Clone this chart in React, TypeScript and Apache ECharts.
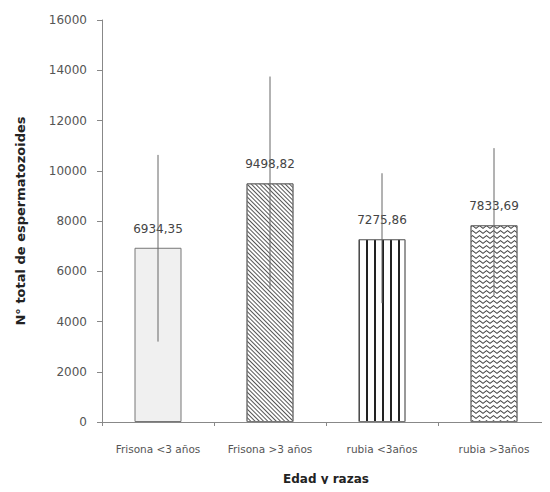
import React, { useEffect, useRef } from "react";
import * as echarts from "echarts";

const categories = ["Frisona <3 años", "Frisona >3 años", "rubia <3años", "rubia >3años"];
const means = [6934.35, 9498.82, 7275.86, 7833.69];
const labels = ["6934,35", "9498,82", "7275,86", "7833,69"];
const errHigh = [10630, 13750, 9900, 10900];
const errLow = [3200, 5300, 4730, 5050];
const yTicks = [0, 16000, 2000];

const FONT = "DejaVu Sans";

export default function App() {
  const ref = useRef<HTMLDivElement>(null);
  useEffect(() => {
    if (!ref.current) return;
    const chart = echarts.init(ref.current, null, { renderer: "svg" });
    const decals: any[] = [
      null,
      { symbol: "rect", color: "#555", backgroundColor: "#fff", dashArrayX: [1, 0], dashArrayY: [1, 1.6], rotation: Math.PI / 4, symbolSize: 1 },
      { symbol: "rect", color: "#222", backgroundColor: "#fff", dashArrayX: [1, 0], dashArrayY: [1.3, 5.5], rotation: Math.PI / 2, symbolSize: 1 },
      { symbol: "path://M0,3 L4,0 L8,3 L8,4.3 L4,1.3 L0,4.3 Z", color: "#444", backgroundColor: "#fff", dashArrayX: [7, 0], dashArrayY: [4, 0.8], symbolSize: 1 },
    ];
    const fills = ["#f0f0f0", "#fff", "#fff", "#fff"];
    chart.setOption({
      animation: false,
      aria: { enabled: false },
      grid: { left: 102, right: 0, top: 20, bottom: 70, containLabel: false },
      xAxis: {
        type: "category",
        data: categories,
        name: "Edad y razas",
        nameLocation: "middle",
        nameGap: 51,
        nameTextStyle: { fontFamily: FONT, fontSize: 12, fontWeight: "bold", color: "#222" },
        axisLine: { lineStyle: { color: "#888" } },
        axisTick: { show: true, length: 4, lineStyle: { color: "#888" } },
        axisLabel: { fontFamily: FONT, fontSize: 10.5, color: "#555", margin: 21, interval: 0 },
      },
      yAxis: {
        type: "value",
        min: yTicks[0],
        max: yTicks[1],
        interval: yTicks[2],
        name: "N° total de espermatozoides",
        nameLocation: "middle",
        nameGap: 75,
        nameTextStyle: { fontFamily: FONT, fontSize: 13, fontWeight: "bold", color: "#222" },
        axisLine: { show: true, lineStyle: { color: "#888" } },
        axisTick: { show: true, length: 5, lineStyle: { color: "#888" } },
        splitLine: { show: false },
        axisLabel: { fontFamily: FONT, fontSize: 12, color: "#555", margin: 15, formatter: (v: number) => String(v) },
      },
      series: [
        {
          type: "bar",
          barWidth: 47,
          data: means.map((v, i) => ({
            value: v,
            itemStyle: {
              color: fills[i],
              borderColor: "#777",
              borderWidth: 1,
              decal: decals[i] || undefined,
            },
          })),
          label: {
            show: true,
            position: "top",
            distance: 13,
            fontFamily: FONT,
            fontSize: 12,
            color: "#444",
            formatter: (p: any) => labels[p.dataIndex],
          },
        },
        {
          type: "custom",
          z: 10,
          data: categories.map((_, i) => [i, errLow[i], errHigh[i]]),
          renderItem: (params: any, api: any) => {
            const x = api.value(0);
            const lo = api.coord([x, api.value(1)]);
            const hi = api.coord([x, api.value(2)]);
            return {
              type: "line",
              shape: { x1: lo[0], y1: lo[1], x2: hi[0], y2: hi[1] },
              style: { stroke: "#666", lineWidth: 1 },
            };
          },
        },
      ],
    });
    return () => chart.dispose();
  }, []);
  return <div ref={ref} style={{ width: 550, height: 492, margin: -8 }} />;
}
